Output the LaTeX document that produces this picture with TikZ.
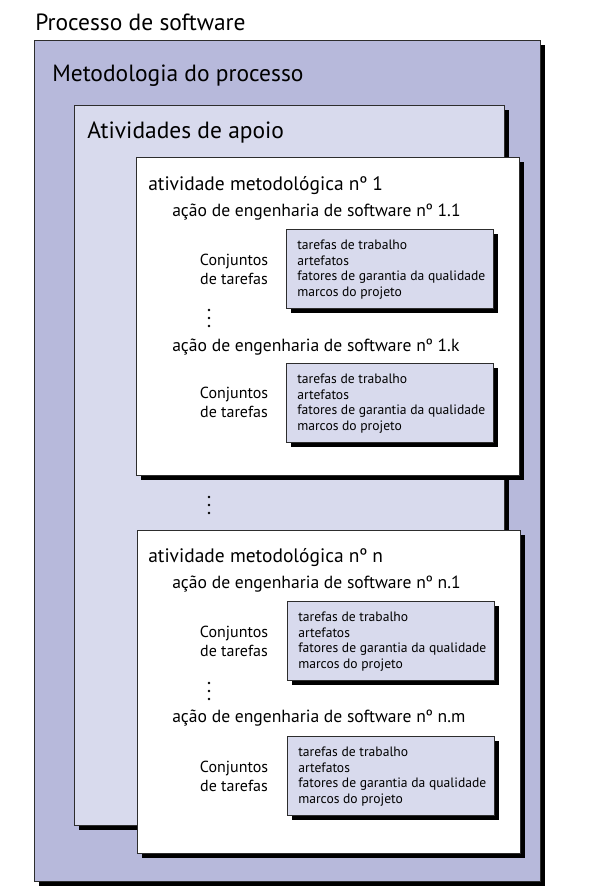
\documentclass[tikz,border=0pt]{standalone}
\usepackage{fontspec}
\setmainfont{PT Sans}
\usetikzlibrary{shadows,fit}
\definecolor{procfill}{RGB}{183,185,219}
\definecolor{apoiofill}{RGB}{216,218,237}
\definecolor{bordagray}{RGB}{45,45,45}
\newcommand{\tarefas}{tarefas de trabalho\\
                      artefatos\\
                      fatores de garantia da qualidade\\
                      marcos do projeto}
\newcommand{\conj}{Conjuntos\\de tarefas}

\begin{document}
\begin{tikzpicture}[x=0.75pt,y=-0.75pt,
  caixa/.style={draw=bordagray,line width=0.6pt,inner sep=0pt,
                drop shadow={shadow xshift=3.4pt,shadow yshift=-3.4pt,
                             fill=black,opacity=1}},
  titulo/.style={anchor=base west,inner sep=0pt,font=\fontsize{17.6}{20}\selectfont},
  ativ/.style={anchor=base west,inner sep=0pt,font=\fontsize{14.6}{17}\selectfont},
  acao/.style={anchor=base west,inner sep=0pt,font=\fontsize{13.2}{16}\selectfont},
  conjlab/.style={anchor=base,inner sep=0pt,align=center,font=\fontsize{12}{13.9}\selectfont},
  lista/.style={anchor=base west,inner sep=0pt,align=left,font=\fontsize{10.2}{11.6}\selectfont}]

 \useasboundingbox (0,0) rectangle (601,896);

 % caixas
 \node[caixa,fill=procfill,fit={(34,40)(540,881)}]   (proc)  {};
 \node[caixa,fill=apoiofill,fit={(74,105)(504,825)}] (apoio) {};
 \node[caixa,fill=white,fit={(136,157)(519,475)}]    (ativ1) {};
 \node[caixa,fill=white,fit={(137,530)(520,853)}]    (ativn) {};

 \node[caixa,fill=apoiofill,fit={(286,229)(493,308)}] (tar11) {};
 \node[caixa,fill=apoiofill,fit={(286,363)(493,442)}] (tar1k) {};
 \node[caixa,fill=apoiofill,fit={(287,601)(494,680)}] (tarn1) {};
 \node[caixa,fill=apoiofill,fit={(287,736)(494,815)}] (tarnm) {};

 % textos
 \node[titulo] (tproc)  at (35,30)  {Processo de software};
 \node[titulo] (tmet)   at (52,81)  {Metodologia do processo};
 \node[titulo] (tapoio) at (87,138) {Atividades de apoio};

 \node[ativ] (tativ1) at (148,190) {atividade metodológica nº 1};
 \node[ativ] (tativn) at (148,562) {atividade metodológica nº n};

 \node[acao] (tacao11) at (172,216) {ação de engenharia de software nº 1.1};
 \node[acao] (tacao1k) at (172,351) {ação de engenharia de software nº 1.k};
 \node[acao] (tacaon1) at (172,588) {ação de engenharia de software nº n.1};
 \node[acao] (tacaonm) at (172,722) {ação de engenharia de software nº n.m};

 % base = ultima linha
 \node[conjlab] (conj11) at (234,284) {\conj};
 \node[conjlab] (conj1k) at (234,417) {\conj};
 \node[conjlab] (conjn1) at (234,656) {\conj};
 \node[conjlab] (conjnm) at (234,791) {\conj};

 \node[lista] (lista11) at (297,296) {\tarefas};
 \node[lista] (lista1k) at (297,430) {\tarefas};
 \node[lista] (listan1) at (298,668) {\tarefas};
 \node[lista] (listanm) at (298,803) {\tarefas};

 % pontinhos
 \foreach \y in {318,505,691}
   \foreach \dy in {-8,0,8}
     \fill (209,\y+\dy) circle (1.3);

\end{tikzpicture}
\end{document}
